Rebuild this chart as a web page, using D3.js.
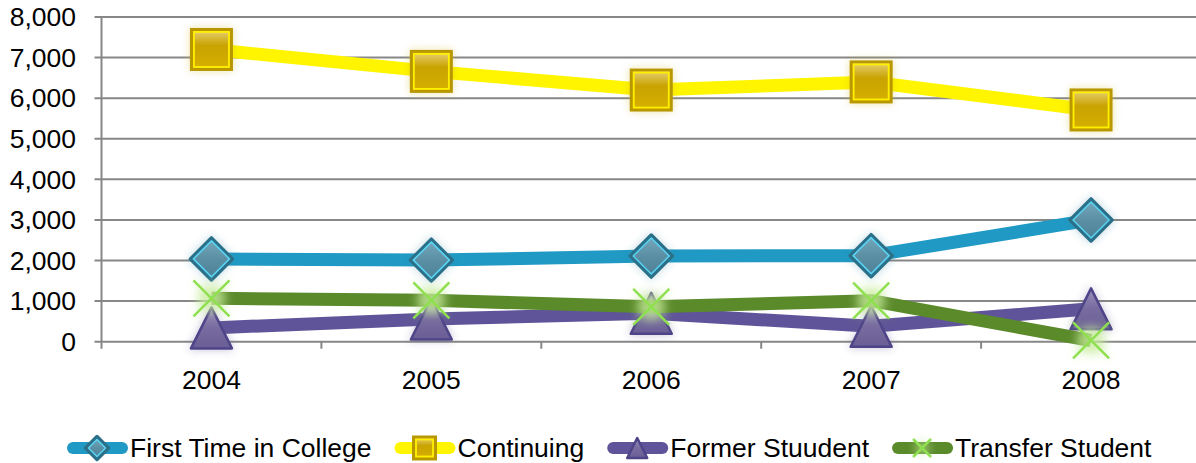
<!DOCTYPE html>
<html>
<head>
<meta charset="utf-8">
<script src="https://cdn.jsdelivr.net/npm/d3@7"></script>
<style>
  body { margin: 0; background: #fff; }
  text { font-family: "Liberation Sans", Arial, sans-serif; fill: #000; }
</style>
</head>
<body>
<div id="chart"></div>
<script>
// Data
const years = ["2004", "2005", "2006", "2007", "2008"];
const firstTime = [2040, 2010, 2110, 2120, 3000];
const continuing = [7200, 6660, 6200, 6400, 5710];
const former = [340, 560, 700, 380, 810];
const transfer = [1070, 1020, 860, 1010, 30];
const yTicks = [0, 1000, 2000, 3000, 4000, 5000, 6000, 7000, 8000];
const seriesNames = ["First Time in College", "Continuing", "Former Stuudent", "Transfer Student"];

const series = [
    { name: seriesNames[0], values: firstTime, line: "#209ac4", marker: "diamond" },
    { name: seriesNames[1], values: continuing, line: "#fff500", marker: "square" },
    { name: seriesNames[2], values: former, line: "#5f5499", marker: "triangle" },
    { name: seriesNames[3], values: transfer, line: "#5b8a2b", marker: "x" }
];

const W = 1196, H = 463;
const plot = { left: 101.5, right: 1201, top: 17, bottom: 341.7 };
const fontSize = "26.5px";

const svg = d3.select("#chart").append("svg")
    .attr("width", W)
    .attr("height", H);

const defs = svg.append("defs");

// soft glow round the markers
const glow = defs.append("filter").attr("id", "glow")
    .attr("x", "-60%").attr("y", "-60%").attr("width", "220%").attr("height", "220%");
glow.append("feGaussianBlur").attr("in", "SourceGraphic").attr("stdDeviation", 4).attr("result", "b");
glow.append("feComponentTransfer").attr("in", "b").attr("result", "b2")
    .append("feFuncA").attr("type", "linear").attr("slope", 0.35);
const gm = glow.append("feMerge");
gm.append("feMergeNode").attr("in", "b2");
gm.append("feMergeNode").attr("in", "SourceGraphic");

const blur = defs.append("filter").attr("id", "blur")
    .attr("x", "-100%").attr("y", "-100%").attr("width", "300%").attr("height", "300%");
blur.append("feGaussianBlur").attr("stdDeviation", 5);

function grad(id, stops) {
    const g = defs.append("linearGradient").attr("id", id)
        .attr("x1", 0).attr("y1", 0).attr("x2", 0).attr("y2", 1);
    stops.forEach(s => g.append("stop").attr("offset", s[0]).attr("stop-color", s[1]));
}
grad("gDiamond", [[0, "#78aabd"], [0.5, "#5b8fa4"], [1, "#4b8096"]]);
grad("gSquare", [[0, "#e8d27a"], [0.4, "#c9a300"], [1, "#d6b000"]]);
grad("gTriangle", [[0, "#9a90bb"], [0.5, "#776b9f"], [1, "#6a5e96"]]);

// Scales
const x = d3.scalePoint()
    .domain(years)
    .range([plot.left, plot.right])
    .padding(0.5);

const y = d3.scaleLinear()
    .domain([0, 8000])
    .range([plot.bottom, plot.top]);

const step = x.step();

// Gridlines
svg.append("g")
    .selectAll("line")
    .data(yTicks)
    .enter().append("line")
    .attr("x1", plot.left - 7)
    .attr("x2", W)
    .attr("y1", d => y(d))
    .attr("y2", d => y(d))
    .attr("stroke", "#878787")
    .attr("stroke-width", 2);

// Y axis labels
svg.append("g")
    .selectAll("text")
    .data(yTicks)
    .enter().append("text")
    .attr("x", 76)
    .attr("y", d => y(d) + 9.3)
    .attr("text-anchor", "end")
    .style("font-size", fontSize)
    .text(d => d3.format(",")(d));

// Y axis line
svg.append("line")
    .attr("x1", plot.left).attr("x2", plot.left)
    .attr("y1", plot.top).attr("y2", plot.bottom + 7)
    .attr("stroke", "#878787")
    .attr("stroke-width", 2);

// X axis ticks at category boundaries
svg.append("g")
    .selectAll("line")
    .data(years.slice(1))
    .enter().append("line")
    .attr("x1", d => x(d) - step / 2)
    .attr("x2", d => x(d) - step / 2)
    .attr("y1", plot.bottom)
    .attr("y2", plot.bottom + 7)
    .attr("stroke", "#878787")
    .attr("stroke-width", 2);

// X axis labels
svg.append("g")
    .selectAll("text")
    .data(years)
    .enter().append("text")
    .attr("x", d => x(d))
    .attr("y", 389)
    .attr("text-anchor", "middle")
    .style("font-size", fontSize)
    .text(d => d);

// Marker drawing
function drawMarker(g, type, s) {
    // s = full width of marker
    const h = s / 2;
    if (type === "diamond") {
        g.append("path")
            .attr("d", `M0,${-h}L${h},0L0,${h}L${-h},0Z`)
            .attr("fill", "url(#gDiamond)")
            .attr("stroke", "#2c6f89")
            .attr("stroke-width", 3.5)
            .attr("stroke-linejoin", "round");
        g.append("path")
            .attr("d", `M0,${-h + 3}L${h - 3},0L0,${h - 3}L${-h + 3},0Z`)
            .attr("fill", "none")
            .attr("stroke", "#5ad3f2")
            .attr("stroke-width", 1.5)
            .attr("stroke-linejoin", "round");
    } else if (type === "square") {
        g.append("rect")
            .attr("x", -h).attr("y", -h).attr("width", s).attr("height", s)
            .attr("fill", "url(#gSquare)")
            .attr("stroke", "#b89700")
            .attr("stroke-width", 3);
        g.append("rect")
            .attr("x", -h + 2.5).attr("y", -h + 2.5).attr("width", s - 5).attr("height", s - 5)
            .attr("fill", "none")
            .attr("stroke", "#fff000")
            .attr("stroke-width", 1.8);
    } else if (type === "triangle") {
        g.append("path")
            .attr("d", `M0,${-h}L${h},${h}L${-h},${h}Z`)
            .attr("fill", "url(#gTriangle)")
            .attr("stroke", "#4e4488")
            .attr("stroke-width", 2.5)
            .attr("stroke-linejoin", "round");
    } else if (type === "x") {
        g.append("circle")
            .attr("r", h * 0.75)
            .attr("fill", "#c8ec9c")
            .attr("opacity", 0.7)
            .attr("filter", "url(#blur)");
        g.append("path")
            .attr("d", `M${-h},${-h}L${h},${h}M${h},${-h}L${-h},${h}`)
            .attr("stroke", "#8fe050")
            .attr("stroke-width", 2.5)
            .attr("fill", "none");
    }
}

const markerSize = { diamond: 42, square: 40, triangle: 41, x: 36 };

const lineGen = d3.line()
    .x((d, i) => x(years[i]))
    .y(d => y(d));

// Series: line then markers, one after another
series.forEach(ser => {
    const g = svg.append("g");
    g.append("path")
        .datum(ser.values)
        .attr("d", lineGen)
        .attr("fill", "none")
        .attr("stroke", ser.line)
        .attr("stroke-width", 13)
        .attr("stroke-linejoin", "round");

    g.selectAll("g.marker")
        .data(ser.values)
        .enter().append("g")
        .attr("class", "marker")
        .attr("transform", (d, i) => `translate(${x(years[i])},${y(d)})`)
        .attr("filter", "url(#glow)")
        .each(function () { drawMarker(d3.select(this), ser.marker, markerSize[ser.marker]); });
});

// Legend
const legend = svg.append("g");
const legendSize = { diamond: 23, square: 22, triangle: 20, x: 18 };
let lx = 67;
const ly = 448;
series.forEach(ser => {
    const item = legend.append("g");
    item.append("line")
        .attr("x1", lx + 6).attr("x2", lx + 55)
        .attr("y1", ly).attr("y2", ly)
        .attr("stroke", ser.line)
        .attr("stroke-width", 12)
        .attr("stroke-linecap", "round");
    const mk = item.append("g").attr("transform", `translate(${lx + 30},${ly})`);
    drawMarker(mk, ser.marker, legendSize[ser.marker]);
    const t = item.append("text")
        .attr("x", lx + 63)
        .attr("y", ly + 9)
        .style("font-size", fontSize)
        .text(ser.name);
    lx = lx + 63 + t.node().getComputedTextLength() + 23;
});
</script>
</body>
</html>
